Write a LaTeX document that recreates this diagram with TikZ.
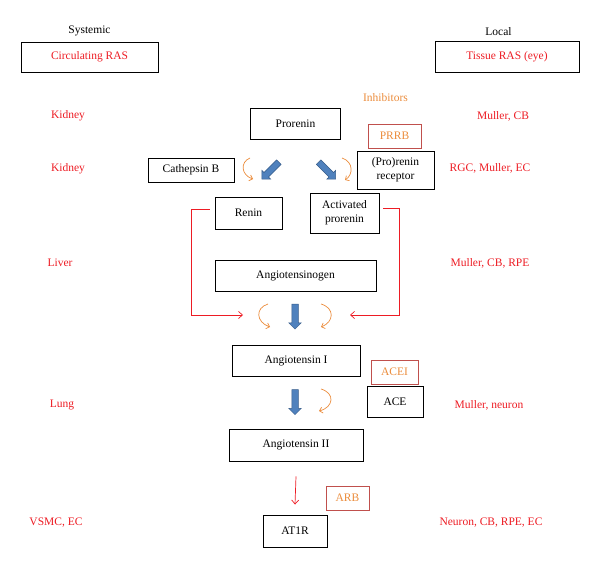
\documentclass[tikz,border=0pt]{standalone}
\usepackage{fontspec}
\setmainfont{Liberation Serif}
\usetikzlibrary{arrows.meta,shapes.arrows}
\definecolor{sitered}{RGB}{237,28,36}
\definecolor{inhiborange}{RGB}{235,140,60}
\definecolor{inhibedge}{RGB}{192,80,77}
\definecolor{flowblue}{RGB}{79,129,189}
\definecolor{flowedge}{RGB}{56,93,138}
\tikzset{
  box/.style={draw, line width=0.9pt, inner sep=0pt, align=center},
  inhib/.style={draw=inhibedge, line width=0.8pt, text=inhiborange, inner sep=0pt},
  site/.style={text=sitered},
  flow/.style={single arrow, draw=flowedge, fill=flowblue, line width=0.5pt,
    inner sep=3pt, single arrow head extend=3pt, single arrow tip angle=90,
    minimum height=25pt},
  feed/.style={draw=sitered, line width=0.7pt, -{Straight Barb[length=4pt,width=7pt]}},
  cleave/.style={draw=inhiborange, line width=0.7pt, -{Straight Barb[length=3pt,width=6pt]}},
}
\begin{document}
\begin{tikzpicture}[x=1pt,y=-1pt,font=\fontsize{11.5}{14}\selectfont]
    \useasboundingbox (0,0) rectangle (600,567);
    %% column heads
    \node (systemic) at (89.5,31) {Systemic};
    \node (local) at (498.5,32) {Local};
    \node[box,minimum width=137pt,minimum height=30pt,text=sitered] (circ) at (89.5,57) {Circulating RAS};
    \node[box,minimum width=144pt,minimum height=31pt,text=sitered] (tissue) at (507,56.5) {Tissue RAS (eye)};
    \node[text=inhiborange] (inhibitors) at (385.5,98) {Inhibitors};
    %% sites of expression
    \node[site] (kidneya) at (68,116) {Kidney};
    \node[site] (kidneyb) at (68,169) {Kidney};
    \node[site] (liver) at (60,263) {Liver};
    \node[site] (lung) at (62,405) {Lung};
    \node[site] (vsmc) at (56,523) {VSMC, EC};
    \node[site] (eyea) at (503,116) {Muller, CB};
    \node[site] (eyeb) at (490,168) {RGC, Muller, EC};
    \node[site] (eyec) at (490,263) {Muller, CB, RPE};
    \node[site] (eyed) at (489,405) {Muller, neuron};
    \node[site] (eyee) at (491,523) {Neuron, CB, RPE, EC};
    %% cascade
    \node[box,minimum width=90pt,minimum height=31pt] (prorenin) at (295.5,123.5) {Prorenin};
    \node[inhib,minimum width=53pt,minimum height=24pt] (prrb) at (394.5,136) {PRRB};
    \node[box,minimum width=86pt,minimum height=24pt] (cathb) at (191,170) {Cathepsin B};
    \node[box,minimum width=77pt,minimum height=38pt] (receptor) at (395.5,170) {(Pro)renin\\receptor};
    \node[box,minimum width=67pt,minimum height=32pt] (renin) at (248.5,213) {Renin};
    \node[box,minimum width=69pt,minimum height=40pt] (actpro) at (344.5,213) {Activated\\prorenin};
    \node[box,minimum width=161pt,minimum height=31pt] (agen) at (295.5,275.5) {Angiotensinogen};
    \node[box,minimum width=128pt,minimum height=31pt] (ang1) at (296,360.5) {Angiotensin I};
    \node[inhib,minimum width=47pt,minimum height=24pt] (acei) at (394.5,372) {ACEI};
    \node[box,minimum width=56pt,minimum height=31pt] (ace) at (395,401.5) {ACE};
    \node[box,minimum width=134pt,minimum height=32pt] (ang2) at (296,445) {Angiotensin II};
    \node[inhib,minimum width=43pt,minimum height=24pt] (arb) at (347.5,498) {ARB};
    \node[box,minimum width=64pt,minimum height=32pt] (at1r) at (295,531) {AT1R};
    %% conversion arrows
    \node[flow,minimum height=24pt,rotate=-135] (tocathb) at (271.5,169.5) {};
    \node[flow,minimum height=24pt,rotate=-45] (toreceptor) at (326,169.5) {};
    \node[flow,rotate=-90] (toang1) at (295,315) {};
    \node[flow,rotate=-90] (toang2) at (295,400.5) {};
    %% enzyme action
    \draw[cleave] (250,158) .. controls (240,162) and (241,175) .. (253,179);
    \draw[cleave] (342,158) .. controls (354,162) and (353,175) .. (345,180);
    \draw[cleave] (268,304) .. controls (255,308) and (256,322) .. (270,327);
    \draw[cleave] (321,304) .. controls (335,308) and (334,322) .. (321,327);
    \draw[cleave] (321,389) .. controls (335,393) and (334,407) .. (319,411);
    %% renin and activated prorenin act on angiotensinogen
    \coordinate (reninin) at (243,315);
    \coordinate (actproin) at (350,315);
    \draw[feed] ([xshift=-5pt,yshift=4pt]renin.west) -- ++(-18,0) |- (reninin);
    \draw[feed] ([xshift=4pt,yshift=5pt]actpro.east) -- ++(16,0) |- (actproin);
    \draw[feed] ([yshift=-15pt]ang2.south) -- ([yshift=10pt]at1r.north);
\end{tikzpicture}
\end{document}
